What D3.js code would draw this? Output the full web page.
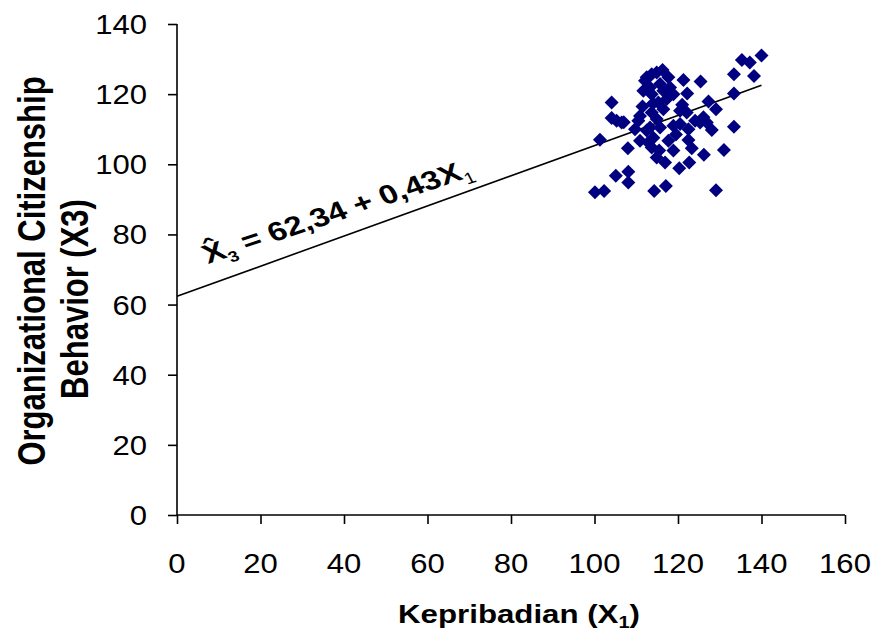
<!DOCTYPE html>
<html>
<head>
<meta charset="utf-8">
<script src="https://cdn.jsdelivr.net/npm/d3@7"></script>
<style>
  html, body { margin: 0; padding: 0; background: #fff; }
  svg { display: block; font-family: Arial, "Liberation Sans", sans-serif; }
</style>
</head>
<body>
<div id="chart"></div>
<script>
/* data: Kepribadian (X1) vs OCB (X3) */
const xVals = [135.3, 137.2, 140.0, 133.4, 138.2, 133.4, 127.3, 129.1, 125.4, 121.3,
               122.2, 116.3, 113.7, 112.1, 111.7, 113.7, 117.7, 118.1, 115.7, 117.3,
               115.3, 116.5, 120.5, 120.5, 124.1, 126.1, 126.9, 128.1, 133.4, 131.0,
               126.2, 122.5, 123.3, 122.7, 120.3, 118.9, 116.9, 114.9, 113.7, 114.1,
               112.5, 110.5, 109.7, 110.9, 108.0, 105.3, 104.1, 104.1, 106.5, 101.3,
               105.1, 108.1, 108.1, 100.1, 102.3, 114.3, 117.1, 129.1, 118.9, 114.9,
               113.7, 110.9, 115.7, 114.0, 112.5, 113.3, 114.9, 116.5, 118.9, 125.3,
               122.1, 112.9, 115.5, 113.3, 117.7, 122.5, 107.0, 111.5, 119.5, 121.0];
const yVals = [129.7, 129.0, 131.0, 125.7, 125.2, 120.2, 117.9, 115.7, 123.6, 124.0,
               120.2, 126.9, 125.7, 123.8, 121.0, 120.0, 124.8, 121.9, 122.9, 118.6,
               117.6, 115.7, 115.3, 111.5, 112.4, 113.4, 111.9, 109.8, 110.7, 104.1,
               102.7, 106.9, 104.6, 100.5,  98.9, 103.9, 100.5, 101.9, 104.8, 107.6,
               109.6, 112.4, 110.0, 106.7, 104.6, 112.4, 113.2, 117.6, 111.9, 107.0,
                96.7,  97.9,  94.8,  92.0,  92.4,  92.4,  93.8,  92.6, 111.0, 112.9,
               114.8, 113.8, 110.5, 117.3, 124.8, 121.9, 126.2, 121.0, 120.0, 111.9,
               114.8, 106.2, 103.9, 110.5, 106.7, 110.0, 112.0, 116.5, 108.5, 117.0];

/* regression line endpoints (X3 = 62,34 + 0,43 X1) */
const fitX = [0, 140];
const fitY = [62.34, 122.54];

const xTicks = [0, 20, 40, 60, 80, 100, 120, 140, 160];
const yTicks = [0, 20, 40, 60, 80, 100, 120, 140];

/* ───────────────────────────────────────────────────────── */
const W = 879, H = 638;
const SX = 1.25;           // titles in the source are stretched sideways
const x = d3.scaleLinear().domain([0, 160]).range([177, 845]);
const y = d3.scaleLinear().domain([0, 140]).range([515, 24]);

const svg = d3.select("#chart").append("svg")
  .attr("width", W).attr("height", H);

// stretched text helper
function label(px, py, rot, txt, size, weight, anchor, sx) {
  return svg.append("text")
    .attr("transform", `translate(${px},${py}) scale(${sx || SX},1) rotate(${rot})`)
    .attr("text-anchor", anchor || "middle")
    .attr("font-size", size + "px")
    .attr("font-weight", weight || "normal")
    .attr("fill", "#000")
    .text(txt);
}

// axes
const ax = svg.append("g").attr("transform", `translate(0,${y(0)})`)
  .call(d3.axisBottom(x).tickValues(xTicks).tickSize(9).tickFormat(""));
const ay = svg.append("g").attr("transform", `translate(${x(0)},0)`)
  .call(d3.axisLeft(y).tickValues(yTicks).tickSize(9).tickFormat(""));
ax.select(".domain").attr("d", `M${x(0)},0H${x(160)}`);
ay.select(".domain").attr("d", `M0,${y(140)}V${y(0)}`);
svg.selectAll(".domain").attr("stroke", "#000").attr("stroke-width", 1.6);
svg.selectAll(".tick line").attr("stroke", "#000").attr("stroke-width", 1.6);

xTicks.forEach(t => label(x(t), 573, 0, t, 27.5, "normal", "middle", 1.13));
yTicks.forEach(t => label(147, y(t) + 10, 0, t, 27.5, "normal", "end", 1.13));

// regression line
svg.append("path")
  .datum(fitX.map((v, i) => [v, fitY[i]]))
  .attr("fill", "none").attr("stroke", "#000").attr("stroke-width", 1.6)
  .attr("d", d3.line().x(d => x(d[0])).y(d => y(d[1])));

// scatter diamonds
const R = 7;
svg.append("g").selectAll("path").data(xVals.map((v, i) => [v, yVals[i]])).join("path")
  .attr("fill", "#000080")
  .attr("d", d => {
    const cx = x(d[0]), cy = y(d[1]);
    return `M${cx},${cy - R}L${cx + R},${cy}L${cx},${cy + R}L${cx - R},${cy}Z`;
  });

// equation
const eq = svg.append("text")
  .attr("transform", `translate(208,264) scale(${SX},1) rotate(-22.5)`)
  .attr("font-size", "26.5px").attr("font-weight", "bold").attr("fill", "#000");
eq.append("tspan").text("X\u0302");
eq.append("tspan").attr("font-size", "15px").attr("dy", 6).text("3");
eq.append("tspan").attr("dy", -6).text(" = 62,34 + 0,43X");
eq.append("tspan").attr("font-size", "16px").attr("font-weight", "normal").attr("dy", 6).text("1");

// axis titles
const xt = label(519, 623, 0, "", 25, "bold");
xt.append("tspan").text("Kepribadian (X");
xt.append("tspan").attr("font-size", "16px").attr("dy", 5).text("1");
xt.append("tspan").attr("dy", -5).text(")");

label(45, 271, -90, "Organizational Citizenship", 31, "bold");
label(88, 299, -90, "Behavior  (X3)", 31, "bold");
</script>
</body>
</html>
